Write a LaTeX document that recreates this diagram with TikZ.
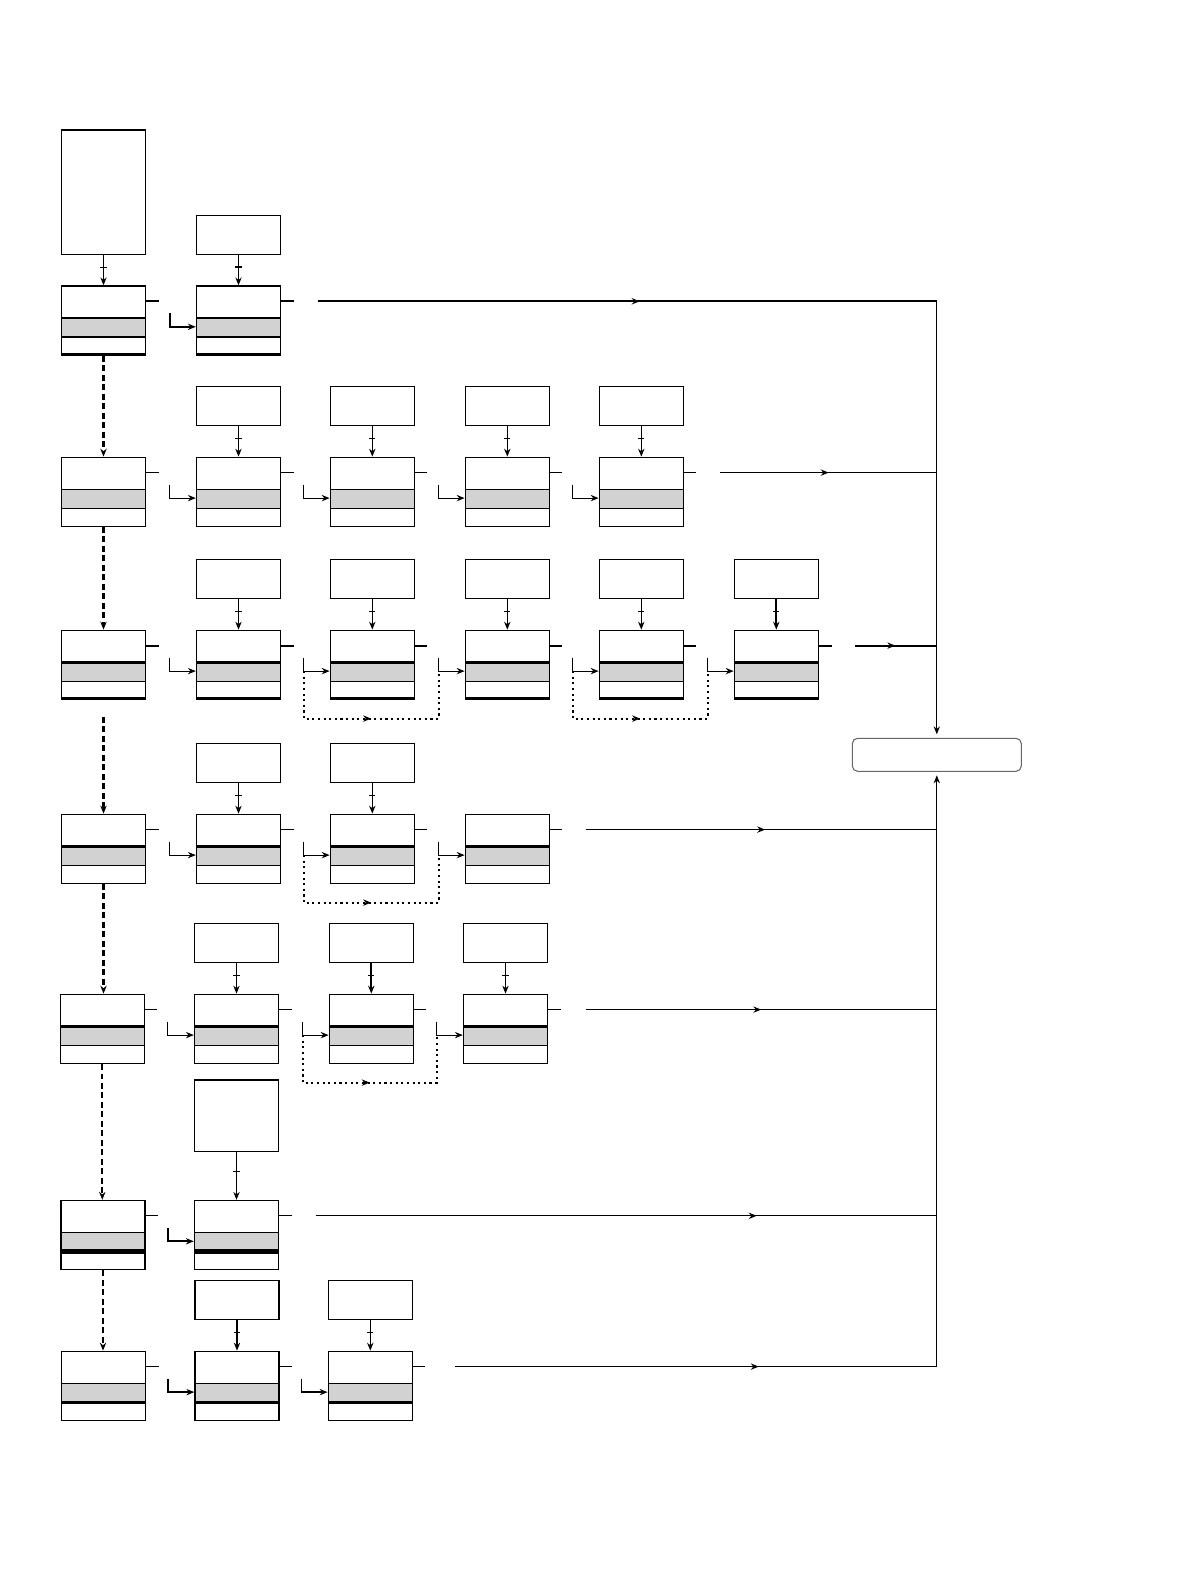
\documentclass[tikz,border=0pt]{standalone}
\usepackage{xcolor}
\usetikzlibrary{arrows.meta,decorations.markings}

\begin{document}
\begin{tikzpicture}[x=0.02cm,y=-0.02cm,line width=0.6pt,
  >={Stealth[length=4.5pt,width=3.6pt]},
  band/.style n args={3}{draw,line width=0.8pt,minimum width=1.68cm,minimum height=1.38cm,inner sep=0pt,
    path picture={
      \fill[gray!35] ([yshift=-0.64cm]path picture bounding box.north west) rectangle ([yshift=-1.02cm]path picture bounding box.north east);
      \draw[line width=#1] ([yshift=-0.64cm]path picture bounding box.north west) -- ([yshift=-0.64cm]path picture bounding box.north east);
      \draw[line width=#2] ([yshift=-1.02cm]path picture bounding box.north west) -- ([yshift=-1.02cm]path picture bounding box.north east);
      \draw[line width=#3] (path picture bounding box.south west) -- (path picture bounding box.south east);}},
  rec/.style={band={0.8pt}{0.8pt}{0.8pt}},
  note/.style={draw,line width=0.8pt,minimum width=1.68cm,minimum height=0.78cm,inner sep=0pt},
  total/.style={draw=black!60,line width=0.6pt,rounded corners=3pt,minimum width=3.38cm,minimum height=0.66cm},
  feed/.style={->,postaction={decorate},decoration={markings,mark=at position 0.4 with {\draw[-,line width=0.8pt] (0pt,-1.8pt) -- (0pt,1.8pt);}}},
  link/.style={->,line width=1.3pt,dash pattern=on 3.4pt off 2pt},
  midarrow/.style={postaction={decorate},decoration={markings,mark=at position #1 with {\arrow{Stealth[length=4.5pt,width=3.6pt]}}}},
  loopback/.style={line width=1.2pt,dotted,midarrow=0.5}]
  \useasboundingbox (0,0) rectangle (1191,1587);
  % Row 1
  \node[note,minimum height=2.49cm] (s10) at (103.5,192.2) {};
  \node[band={0.8pt}{0.8pt}{2.4pt}] (b10) at (103.5,320.5) {};
  \node[note] (s11) at (238.5,234.8) {};
  \node[band={0.8pt}{0.8pt}{2.4pt}] (b11) at (238.5,320.5) {};
  \draw[feed] (s10) -- (b10);
  \draw[feed] (s11) -- (b11);
  \draw[line width=1.2pt] ([yshift=-0.32cm]b10.north east) -- ++(12.5,0);
  \draw[line width=1.2pt] ([yshift=-0.32cm]b11.north east) -- ++(12.5,0);
  \draw[->,line width=0.9pt] ([xshift=-0.52cm,yshift=-0.56cm]b11.north west) |- ([yshift=-0.83cm]b11.north west);
  % Row 2
  \node[rec] (b20) at (103.5,491.8) {};
  \node[note] (s21) at (238.5,406.1) {};
  \node[rec] (b21) at (238.5,491.8) {};
  \node[note] (s22) at (372.3,406.1) {};
  \node[rec] (b22) at (372.3,491.8) {};
  \node[note] (s23) at (507.3,406.1) {};
  \node[rec] (b23) at (507.3,491.8) {};
  \node[note] (s24) at (641.3,406.1) {};
  \node[rec] (b24) at (641.3,491.8) {};
  \draw[feed] (s21) -- (b21);
  \draw[feed] (s22) -- (b22);
  \draw[feed] (s23) -- (b23);
  \draw[feed] (s24) -- (b24);
  \draw ([yshift=-0.32cm]b20.north east) -- ++(12.5,0);
  \draw ([yshift=-0.32cm]b21.north east) -- ++(12.5,0);
  \draw ([yshift=-0.32cm]b22.north east) -- ++(12.5,0);
  \draw ([yshift=-0.32cm]b23.north east) -- ++(12.5,0);
  \draw ([yshift=-0.32cm]b24.north east) -- ++(12.5,0);
  \draw[->] ([xshift=-0.52cm,yshift=-0.56cm]b21.north west) |- ([yshift=-0.83cm]b21.north west);
  \draw[->] ([xshift=-0.52cm,yshift=-0.56cm]b22.north west) |- ([yshift=-0.83cm]b22.north west);
  \draw[->] ([xshift=-0.52cm,yshift=-0.56cm]b23.north west) |- ([yshift=-0.83cm]b23.north west);
  \draw[->] ([xshift=-0.52cm,yshift=-0.56cm]b24.north west) |- ([yshift=-0.83cm]b24.north west);
  % Row 3
  \node[band={1.6pt}{0.8pt}{2.4pt}] (b30) at (103.5,664.8) {};
  \node[note] (s31) at (238.5,579.1) {};
  \node[band={1.6pt}{0.8pt}{2.4pt}] (b31) at (238.5,664.8) {};
  \node[note] (s32) at (372.3,579.1) {};
  \node[band={1.6pt}{0.8pt}{2.4pt}] (b32) at (372.3,664.8) {};
  \node[note] (s33) at (507.3,579.1) {};
  \node[band={1.6pt}{0.8pt}{2.4pt}] (b33) at (507.3,664.8) {};
  \node[note] (s34) at (641.3,579.1) {};
  \node[band={1.6pt}{0.8pt}{2.4pt}] (b34) at (641.3,664.8) {};
  \node[note] (s35) at (776.3,579.1) {};
  \node[band={1.6pt}{0.8pt}{2.4pt}] (b35) at (776.3,664.8) {};
  \draw[feed] (s31) -- (b31);
  \draw[feed] (s32) -- (b32);
  \draw[feed] (s33) -- (b33);
  \draw[feed] (s34) -- (b34);
  \draw[feed,line width=1.1pt] (s35) -- (b35);
  \draw[line width=1.2pt] ([yshift=-0.32cm]b30.north east) -- ++(12.5,0);
  \draw[line width=1.2pt] ([yshift=-0.32cm]b31.north east) -- ++(12.5,0);
  \draw[line width=1.2pt] ([yshift=-0.32cm]b32.north east) -- ++(12.5,0);
  \draw[line width=1.2pt] ([yshift=-0.32cm]b33.north east) -- ++(12.5,0);
  \draw[line width=1.2pt] ([yshift=-0.32cm]b34.north east) -- ++(12.5,0);
  \draw[line width=1.2pt] ([yshift=-0.32cm]b35.north east) -- ++(12.5,0);
  \draw[->] ([xshift=-0.52cm,yshift=-0.56cm]b31.north west) |- ([yshift=-0.83cm]b31.north west);
  \draw[->] ([xshift=-0.52cm,yshift=-0.56cm]b32.north west) |- ([yshift=-0.83cm]b32.north west);
  \draw[->] ([xshift=-0.52cm,yshift=-0.56cm]b33.north west) |- ([yshift=-0.83cm]b33.north west);
  \draw[->] ([xshift=-0.52cm,yshift=-0.56cm]b34.north west) |- ([yshift=-0.83cm]b34.north west);
  \draw[->] ([xshift=-0.52cm,yshift=-0.56cm]b35.north west) |- ([yshift=-0.83cm]b35.north west);
  \draw[loopback] ([xshift=-0.52cm,yshift=-0.83cm]b32.north west) -- ++(0,-0.95cm) -| ([xshift=-0.52cm,yshift=-0.83cm]b33.north west);
  \draw[loopback] ([xshift=-0.52cm,yshift=-0.83cm]b34.north west) -- ++(0,-0.95cm) -| ([xshift=-0.52cm,yshift=-0.83cm]b35.north west);
  % Row 4
  \node[band={1.6pt}{0.8pt}{0.8pt}] (b40) at (103.5,848.8) {};
  \node[note] (s41) at (238.5,763.1) {};
  \node[band={1.6pt}{0.8pt}{0.8pt}] (b41) at (238.5,848.8) {};
  \node[note] (s42) at (372.3,763.1) {};
  \node[band={1.6pt}{0.8pt}{0.8pt}] (b42) at (372.3,848.8) {};
  \node[band={1.6pt}{0.8pt}{0.8pt}] (b43) at (507.3,848.8) {};
  \draw[feed] (s41) -- (b41);
  \draw[feed] (s42) -- (b42);
  \draw ([yshift=-0.32cm]b40.north east) -- ++(12.5,0);
  \draw ([yshift=-0.32cm]b41.north east) -- ++(12.5,0);
  \draw ([yshift=-0.32cm]b42.north east) -- ++(12.5,0);
  \draw ([yshift=-0.32cm]b43.north east) -- ++(12.5,0);
  \draw[->] ([xshift=-0.52cm,yshift=-0.56cm]b41.north west) |- ([yshift=-0.83cm]b41.north west);
  \draw[->] ([xshift=-0.52cm,yshift=-0.56cm]b42.north west) |- ([yshift=-0.83cm]b42.north west);
  \draw[->] ([xshift=-0.52cm,yshift=-0.56cm]b43.north west) |- ([yshift=-0.83cm]b43.north west);
  \draw[loopback] ([xshift=-0.52cm,yshift=-0.83cm]b42.north west) -- ++(0,-0.95cm) -| ([xshift=-0.52cm,yshift=-0.83cm]b43.north west);
  % Row 5
  \node[band={1.6pt}{0.8pt}{0.8pt}] (b50) at (102.3,1028.8) {};
  \node[note] (s51) at (236.5,943.1) {};
  \node[band={1.6pt}{0.8pt}{0.8pt}] (b51) at (236.5,1028.8) {};
  \node[note] (s52) at (371.3,943.1) {};
  \node[band={1.6pt}{0.8pt}{0.8pt}] (b52) at (371.3,1028.8) {};
  \node[note] (s53) at (505.5,943.1) {};
  \node[band={1.6pt}{0.8pt}{0.8pt}] (b53) at (505.5,1028.8) {};
  \draw[feed] (s51) -- (b51);
  \draw[feed,line width=1.1pt] (s52) -- (b52);
  \draw[feed] (s53) -- (b53);
  \draw ([yshift=-0.32cm]b50.north east) -- ++(12.5,0);
  \draw ([yshift=-0.32cm]b51.north east) -- ++(12.5,0);
  \draw ([yshift=-0.32cm]b52.north east) -- ++(12.5,0);
  \draw ([yshift=-0.32cm]b53.north east) -- ++(12.5,0);
  \draw[->] ([xshift=-0.52cm,yshift=-0.56cm]b51.north west) |- ([yshift=-0.83cm]b51.north west);
  \draw[->] ([xshift=-0.52cm,yshift=-0.56cm]b52.north west) |- ([yshift=-0.83cm]b52.north west);
  \draw[->] ([xshift=-0.52cm,yshift=-0.56cm]b53.north west) |- ([yshift=-0.83cm]b53.north west);
  \draw[loopback] ([xshift=-0.52cm,yshift=-0.83cm]b52.north west) -- ++(0,-0.95cm) -| ([xshift=-0.52cm,yshift=-0.83cm]b53.north west);
  % Row 6
  \node[band={0.8pt}{2.4pt}{0.8pt}] (b60) at (103,1235) {};
  \node[note,minimum height=1.43cm] (s61) at (236.5,1115.7) {};
  \node[band={0.8pt}{2.4pt}{0.8pt}] (b61) at (236.5,1235) {};
  \draw[feed] (s61) -- (b61);
  \draw ([yshift=-0.32cm]b60.north east) -- ++(12.5,0);
  \draw ([yshift=-0.32cm]b61.north east) -- ++(12.5,0);
  \draw[->,line width=1pt] ([xshift=-0.52cm,yshift=-0.56cm]b61.north west) |- ([yshift=-0.83cm]b61.north west);
  % Row 7
  \node[band={0.8pt}{1.8pt}{0.8pt}] (b70) at (103.5,1385.8) {};
  \node[note] (s71) at (237,1300.1) {};
  \node[band={0.8pt}{1.8pt}{0.8pt}] (b71) at (237,1385.8) {};
  \node[note] (s72) at (370.3,1300.1) {};
  \node[band={0.8pt}{1.8pt}{0.8pt}] (b72) at (370.3,1385.8) {};
  \draw[feed] (s71) -- (b71);
  \draw[feed] (s72) -- (b72);
  \draw ([yshift=-0.32cm]b70.north east) -- ++(12.5,0);
  \draw ([yshift=-0.32cm]b71.north east) -- ++(12.5,0);
  \draw ([yshift=-0.32cm]b72.north east) -- ++(12.5,0);
  \draw[->,line width=1pt] ([xshift=-0.52cm,yshift=-0.56cm]b71.north west) |- ([yshift=-0.83cm]b71.north west);
  \draw[->,line width=1pt] ([xshift=-0.52cm,yshift=-0.56cm]b72.north west) |- ([yshift=-0.83cm]b72.north west);
  % Links down the first column
  \draw[link] (b10.south) -- (b20.north);
  \draw[link] (b20.south) -- (b30.north);
  \draw[link] ([yshift=-0.34cm]b30.south) -- (b40.north);
  \draw[link] (b40.south) -- (b40.south |- b50.north);
  \draw[link] (b50.south) -- (b50.south |- b60.north);
  \draw[link] (b60.south) -- (b60.south |- b70.north);
  % Merge box and outputs
  \node[total] (merge) at (936.8,754.8) {};
  \coordinate (o1) at ([xshift=0.73cm,yshift=-0.32cm]b11.north east);
  \coordinate (o2) at ([xshift=0.73cm,yshift=-0.32cm]b24.north east);
  \coordinate (o3) at ([xshift=0.73cm,yshift=-0.32cm]b35.north east);
  \coordinate (o4) at ([xshift=0.73cm,yshift=-0.32cm]b43.north east);
  \coordinate (o5) at ([xshift=0.75cm,yshift=-0.32cm]b53.north east);
  \coordinate (o6) at ([xshift=0.73cm,yshift=-0.32cm]b61.north east);
  \coordinate (o7) at ([xshift=0.85cm,yshift=-0.32cm]b72.north east);
  \draw[line width=1.2pt,midarrow=0.52] (o1) -- (o1 -| merge.north);
  \draw[midarrow=0.5] (o2) -- (o2 -| merge.north);
  \draw[line width=1.2pt,midarrow=0.49] (o3) -- (o3 -| merge.north);
  \draw[midarrow=0.51] (o4) -- (o4 -| merge.north);
  \draw[midarrow=0.5] (o5) -- (o5 -| merge.north);
  \draw[midarrow=0.71] (o6) -- (o6 -| merge.north);
  \draw[midarrow=0.63] (o7) -- (o7 -| merge.north);
  \draw[->,line width=0.7pt,shorten >=2pt] (o1 -| merge.north) -- (merge.north);
  \draw[->,line width=0.7pt,shorten >=2pt] (o7 -| merge.south) -- (merge.south);
\end{tikzpicture}
\end{document}
